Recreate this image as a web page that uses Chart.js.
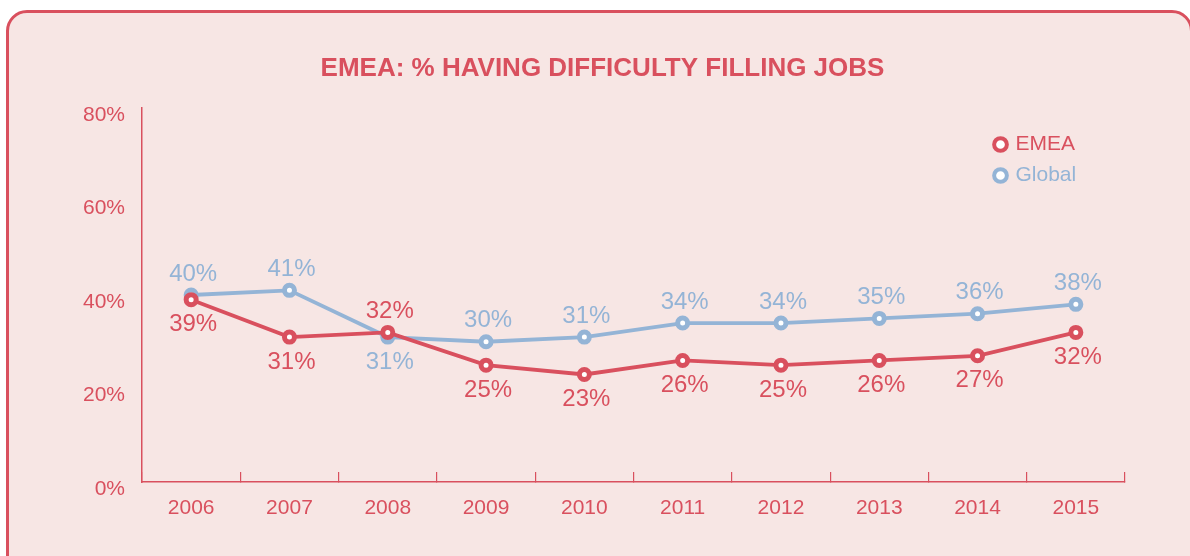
<!DOCTYPE html>
<html><head><meta charset="utf-8">
<script src="https://cdn.jsdelivr.net/npm/chart.js@4.4.1/dist/chart.umd.min.js"></script>
<style>
html,body{margin:0;padding:0;background:#fff;width:1190px;height:556px;overflow:hidden;}
#frame{position:absolute;left:6px;top:10px;width:1187px;height:600px;box-sizing:border-box;border:3px solid #d9505e;border-radius:21px;background:#f7e6e4;}
#wrap{position:absolute;left:0;top:0;width:1190px;height:556px;}
</style></head><body>
<div id="frame"></div>
<div id="wrap"><canvas id="c" width="1190" height="556"></canvas></div>
<script>
const years = ['2006','2007','2008','2009','2010','2011','2012','2013','2014','2015'];
const emea = [39,31,32,25,23,26,25,26,27,32];
const globalVals = [40,41,31,30,31,34,34,35,36,38];
const seriesNames = ['EMEA','Global'];
const chartTitle = 'EMEA: % HAVING DIFFICULTY FILLING JOBS';

const RED = '#d9505e';
const BLUE = '#94b4d6';
const FONT = '"Liberation Sans", Arial, Helvetica, sans-serif';

const dataLabels = {
  id: 'dataLabels',
  afterDatasetsDraw(chart) {
    const ctx = chart.ctx;
    ctx.save();
    ctx.font = '24px ' + FONT;
    ctx.textAlign = 'center';
    ctx.textBaseline = 'middle';
    const ds = chart.data.datasets;
    ds.forEach((d, di) => {
      const meta = chart.getDatasetMeta(di);
      const other = ds[1 - di].data;
      meta.data.forEach((pt, i) => {
        const above = d.data[i] > other[i];
        ctx.fillStyle = d.borderColor;
        ctx.fillText(d.data[i] + '%', pt.x + 2, pt.y + (above ? -21 : 25));
      });
    });
    ctx.restore();
  }
};

const moveLegend = {
  id: 'moveLegend',
  beforeDraw(chart) {
    if (chart.legend) {
      chart.legend.left = 986;
      chart.legend.top = 124;
    }
  }
};

new Chart(document.getElementById('c'), {
  type: 'line',
  data: {
    labels: years,
    datasets: [
      { label: seriesNames[0], data: emea, borderColor: RED, backgroundColor: '#fff',
        borderWidth: 3.8, pointRadius: 5, pointBorderWidth: 5, pointBackgroundColor: '#fff',
        pointBorderColor: RED, tension: 0 },
      { label: seriesNames[1], data: globalVals, borderColor: BLUE, backgroundColor: '#fff',
        borderWidth: 3.8, pointRadius: 5, pointBorderWidth: 5, pointBackgroundColor: '#fff',
        pointBorderColor: BLUE, tension: 0 }
    ]
  },
  options: {
    responsive: false,
    animation: false,
    devicePixelRatio: 1,
    layout: { padding: { left: 80, right: 65, top: 0, bottom: 0 } },
    plugins: {
      title: {
        display: true, text: chartTitle, color: RED,
        font: { family: FONT, size: 26, weight: 'bold' },
        padding: { top: 53.4, bottom: 23.4 }
      },
      legend: {
        position: 'chartArea', align: 'start',
        labels: {
          usePointStyle: true, pointStyle: 'circle', boxWidth: 9, boxHeight: 9, padding: 10,
          font: { family: FONT, size: 21 },
          generateLabels(chart) {
            const items = Chart.defaults.plugins.legend.labels.generateLabels(chart);
            items.forEach(it => {
              const d = chart.data.datasets[it.datasetIndex];
              it.fontColor = d.borderColor;
              it.strokeStyle = d.borderColor;
              it.fillStyle = '#fff';
              it.lineWidth = 4;
              it.pointStyle = 'circle';
            });
            return items;
          }
        }
      },
      tooltip: { enabled: false }
    },
    scales: {
      x: {
        offset: true,
        grid: { display: true, offset: true, drawOnChartArea: false, drawTicks: true, tickLength: -10, color: RED, lineWidth: 1.2 },
        border: { display: true, color: RED, width: 1.5 },
        ticks: { color: RED, font: { family: FONT, size: 21 }, padding: 24 },
        afterFit(scale) { scale.height = 74; }
      },
      y: {
        min: 0, max: 80,
        grid: { display: true, drawOnChartArea: false, drawTicks: false, color: 'rgba(0,0,0,0)' },
        border: { display: true, color: RED, width: 1.5 },
        ticks: { stepSize: 20, color: RED, font: { family: FONT, size: 21 }, padding: 17, labelOffset: 7,
          callback: v => v + '%' },
        afterFit(scale) { scale.width = 62; }
      }
    }
  },
  plugins: [dataLabels, moveLegend]
});
</script>
</body></html>
